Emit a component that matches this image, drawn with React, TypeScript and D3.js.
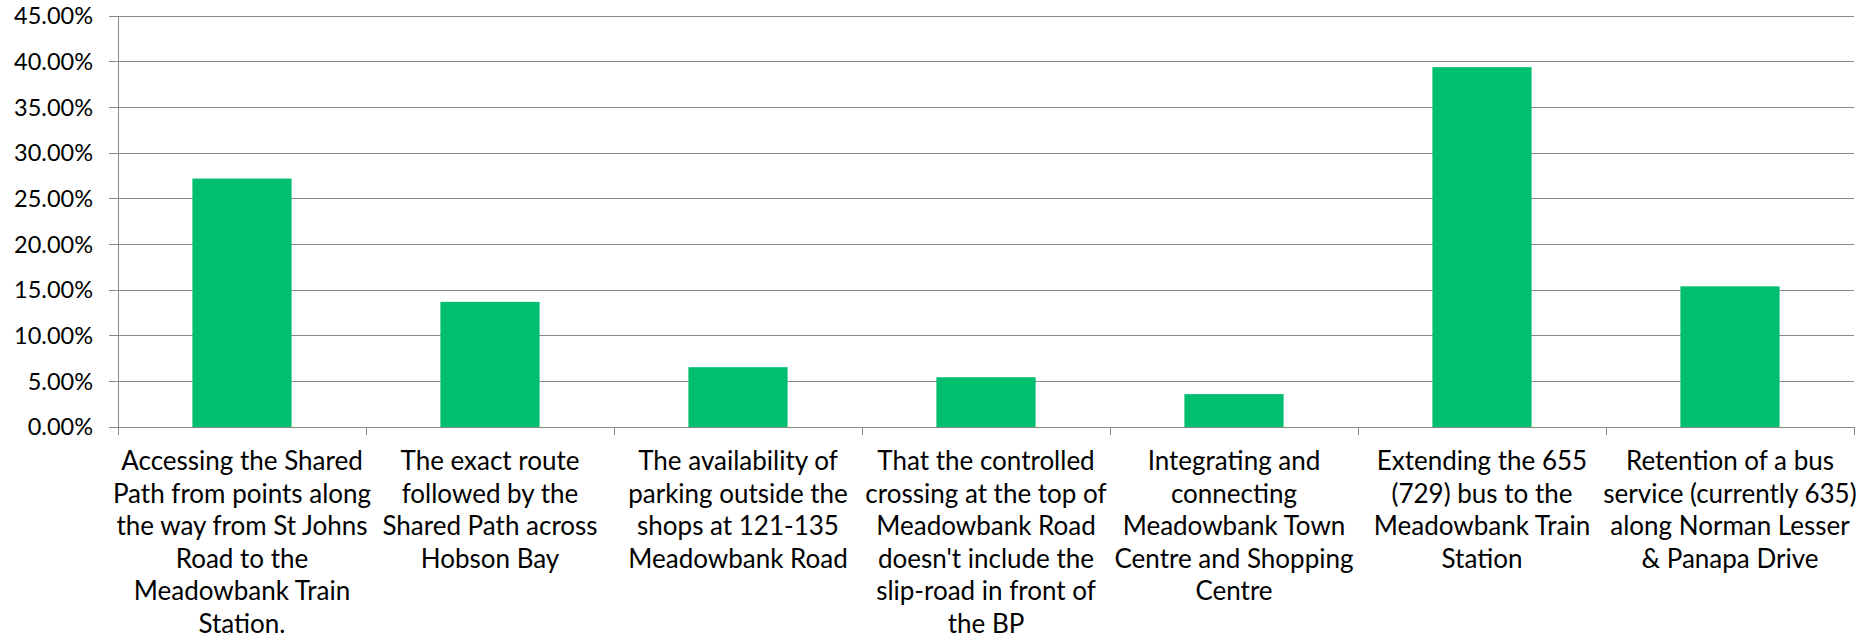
import * as d3 from "d3";

// categories (label lines as wrapped in the chart)
const categories: string[][] = [
  ["Accessing the Shared", "Path from points along", "the way from St Johns", "Road to the", "Meadowbank Train", "Station."],
  ["The exact route", "followed by the", "Shared Path across", "Hobson Bay"],
  ["The availability of", "parking outside the", "shops at 121-135", "Meadowbank Road"],
  ["That the controlled", "crossing at the top of", "Meadowbank Road", "doesn't include the", "slip-road in front of", "the BP"],
  ["Integrating and", "connecting", "Meadowbank Town", "Centre and Shopping", "Centre"],
  ["Extending the 655", "(729) bus to the", "Meadowbank Train", "Station"],
  ["Retention of a bus", "service (currently 635)", "along Norman Lesser", "& Panapa Drive"],
];

// share of respondents, percent
const values: number[] = [27.2, 13.7, 6.55, 5.45, 3.6, 39.4, 15.4];

const yTicks: number[] = [0, 5, 10, 15, 20, 25, 30, 35, 40, 45];

const W = 1871;
const H = 635;
const left = 118;
const right = 1854;
const top = 16;
const bottom = 427;
const font = "Lato, 'Open Sans', sans-serif";
const gridColor = "#898989";
const barColor = "#00BF6F";

export default function App() {
  const ids = categories.map((_, i) => String(i));
  const x = d3.scaleBand<string>().domain(ids).range([left, right]).padding(0);
  const y = d3.scaleLinear().domain([0, 45]).range([bottom, top]);
  const bw = x.bandwidth();
  const fmt = (v: number) => v.toFixed(2) + "%";

  return (
    <svg
      width={W}
      height={H}
      style={{ position: "absolute", left: 0, top: 0, background: "#fff" }}
      fontFamily={font}
    >
      {/* gridlines + y ticks */}
      {yTicks.map((t) => (
        <g key={t}>
          <line x1={left - 9} x2={right} y1={y(t)} y2={y(t)} stroke={gridColor} strokeWidth={1} shapeRendering="crispEdges" />
          <text x={93} y={y(t)} dy="0.36em" textAnchor="end" fontSize={23.5} fill="#000">
            {fmt(t)}
          </text>
        </g>
      ))}

      {/* y axis */}
      <line x1={left} x2={left} y1={top} y2={bottom + 8} stroke={gridColor} strokeWidth={1} shapeRendering="crispEdges" />

      {/* category boundary ticks */}
      {ids.map((id) => (
        <line key={id} x1={(x(id) as number) + bw} x2={(x(id) as number) + bw} y1={bottom} y2={bottom + 8} stroke={gridColor} strokeWidth={1} shapeRendering="crispEdges" />
      ))}

      {/* bars */}
      {values.map((v, i) => (
        <rect
          key={i}
          x={(x(ids[i]) as number) + bw * 0.3}
          width={bw * 0.4}
          y={y(v)}
          height={y(0) - y(v)}
          fill={barColor}
        />
      ))}

      {/* category labels */}
      {categories.map((lines, i) => (
        <text key={i} x={(x(ids[i]) as number) + bw / 2} y={470} textAnchor="middle" fontSize={26} fill="#000">
          {lines.map((ln, j) => (
            <tspan key={j} x={(x(ids[i]) as number) + bw / 2} y={470 + j * 32.6}>
              {ln}
            </tspan>
          ))}
        </text>
      ))}
    </svg>
  );
}
